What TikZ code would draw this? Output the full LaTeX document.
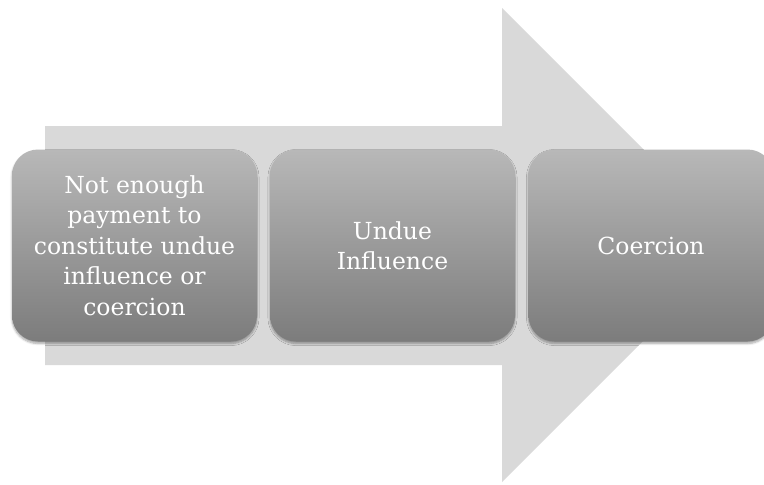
\documentclass[tikz,border=0pt]{standalone}
\usepackage{fontspec}
\setmainfont{DejaVu Serif}
\usetikzlibrary{shadows.blur}
\definecolor{arrowgray}{HTML}{D9D9D9}
\definecolor{boxtop}{HTML}{B8B8B8}
\definecolor{boxbottom}{HTML}{7C7C7C}
\tikzset{
  stagebox/.style={
    rounded corners=26pt, minimum width=245pt, minimum height=192pt,
    top color=boxtop, bottom color=boxbottom, draw=none,
    blur shadow={shadow xshift=0pt, shadow yshift=-2pt, shadow blur steps=6, shadow opacity=35},
    text=white, align=center, inner sep=0pt,
    font=\fontsize{23.5}{30.5}\selectfont
  }
}
\begin{document}
\begin{tikzpicture}[x=1pt, y=-1pt]
  \useasboundingbox (0,0) rectangle (764,485);
  \clip (0,0) rectangle (764,485);
  % broad arrow behind the stages
  \fill[arrowgray] (45,126) -- (502,126) -- (502,8) -- (739,245)
                   -- (502,482) -- (502,365) -- (45,365) -- cycle;
  % stages
  \node[stagebox] (s1) at (134.5,245.5) {Not enough\\payment to\\constitute undue\\influence or\\coercion};
  \node[stagebox] (s2) at (392.5,245.5) {Undue\\Influence};
  \node[stagebox] (s3) at (651,245.5) {Coercion};
\end{tikzpicture}
\end{document}
